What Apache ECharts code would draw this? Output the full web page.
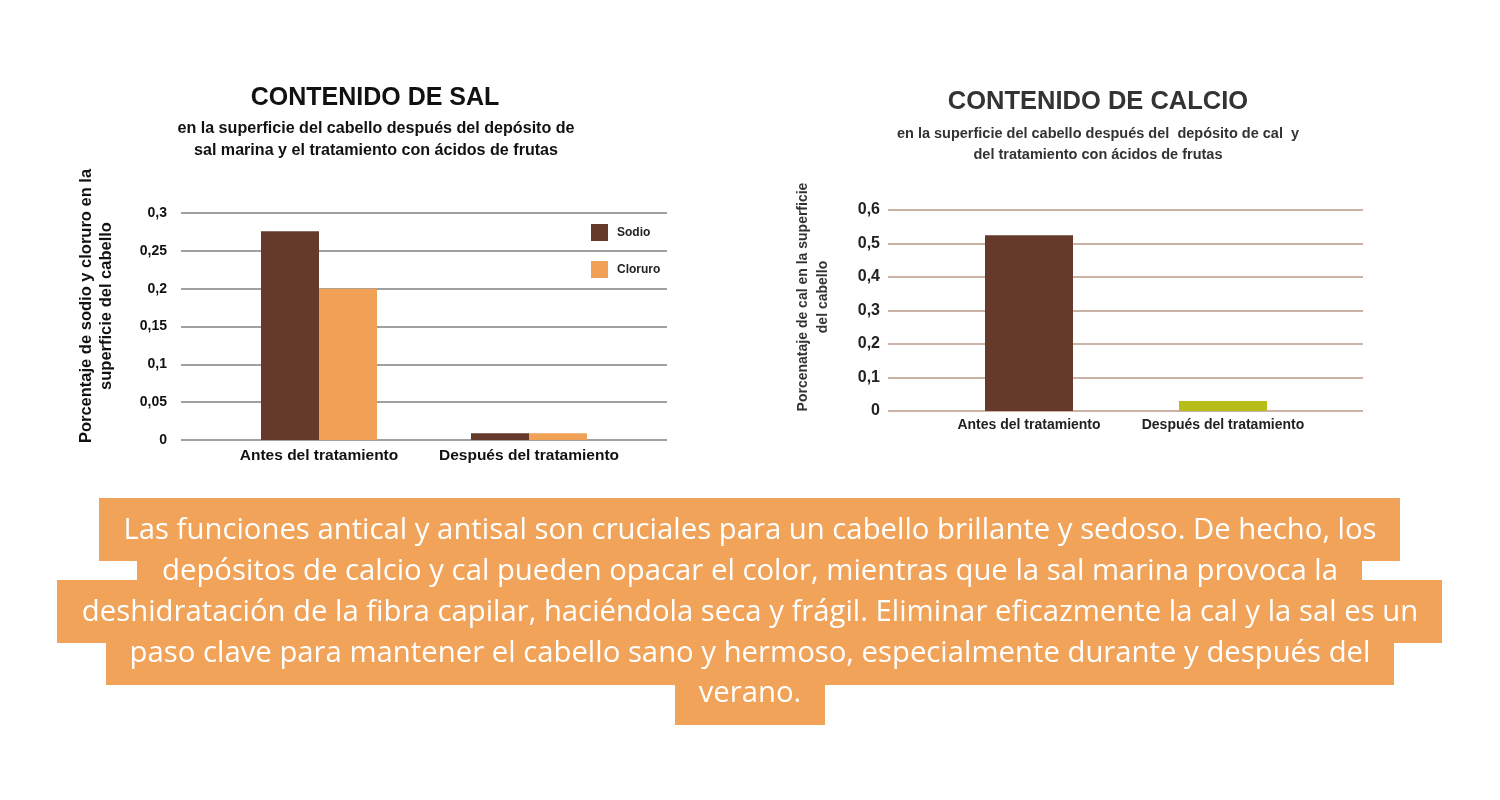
<!DOCTYPE html>
<html><head><meta charset="utf-8">
<script src="https://cdn.jsdelivr.net/npm/echarts/dist/echarts.min.js"></script>
<style>html,body{margin:0;padding:0;background:#fff}#c{width:1500px;height:800px}</style>
</head><body><div id="c"></div>
<script>
// ---- data ----
const categories = ['Antes del tratamiento', 'Después del tratamiento'];
const sodio = [0.276, 0.009];
const cloruro = [0.2, 0.009];
const calcio = [0.525, 0.03];
const saltTicks = { min: 0, max: 0.3, interval: 0.05 };
const calTicks = { min: 0, max: 0.6, interval: 0.1 };
const paragraphLines = [
  'Las funciones antical y antisal son cruciales para un cabello brillante y sedoso. De hecho, los',
  'depósitos de calcio y cal pueden opacar el color, mientras que la sal marina provoca la',
  'deshidratación de la fibra capilar, haciéndola seca y frágil. Eliminar eficazmente la cal y la sal es un',
  'paso clave para mantener el cabello sano y hermoso, especialmente durante y después del',
  'verano.'
];

// ---- styles ----
const F = '"Liberation Sans", Arial, sans-serif';
const BROWN = '#653a2b', ORANGE = '#f0a156', GREEN = '#b6bd1b', BOX = '#f0a359';
const fmt = v => String(Math.round(v * 100) / 100).replace('.', ',');

const chart = echarts.init(document.getElementById('c'));

const boxes = [
  [99, 498, 1301, 63], [137, 540, 1225, 63], [57, 580, 1385, 63],
  [106, 622, 1288, 63], [675, 661, 150, 64]
];
const lineY = [531, 572, 613, 654, 694];

const graphic = [];
boxes.forEach(b => graphic.push({ type: 'rect', z: 1, shape: { x: b[0], y: b[1], width: b[2], height: b[3] }, style: { fill: BOX } }));
paragraphLines.forEach((t, i) => graphic.push({
  type: 'text', z: 5, x: 750, y: lineY[i],
  style: { text: t, align: 'center', verticalAlign: 'middle', fill: '#fff', font: '29.3px "Open Sans"' }
}));
graphic.push({
  type: 'text', x: 96, y: 306, rotation: Math.PI / 2,
  style: { text: 'Porcentaje de sodio y cloruro en la\nsuperficie del cabello', align: 'center', verticalAlign: 'middle',
    fill: '#111', font: 'bold 16.5px ' + F, lineHeight: 20 }
});
graphic.push({
  type: 'text', x: 813, y: 297, rotation: Math.PI / 2,
  style: { text: 'Porcenataje de cal en la superficie\ndel cabello', align: 'center', verticalAlign: 'middle',
    fill: '#333', font: 'bold 14px ' + F, lineHeight: 20 }
});

const hiddenX = gi => ({ type: 'category', gridIndex: gi, data: [''], show: false });

chart.setOption({
  animation: false,
  title: [
    { text: 'CONTENIDO DE SAL', left: 375, top: 84, textAlign: 'center', padding: 0,
      textStyle: { fontFamily: F, fontSize: 25, fontWeight: 'bold', color: '#111', lineHeight: 28 } },
    { text: 'en la superficie del cabello después del depósito de\nsal marina y el tratamiento con ácidos de frutas',
      left: 376, top: 118, textAlign: 'center', padding: 0,
      textStyle: { fontFamily: F, fontSize: 16.1, fontWeight: 'bold', color: '#111', lineHeight: 22 } },
    { text: 'CONTENIDO DE CALCIO', left: 1098, top: 88, textAlign: 'center', padding: 0,
      textStyle: { fontFamily: F, fontSize: 25.5, fontWeight: 'bold', color: '#333', lineHeight: 28 } },
    { text: 'en la superficie del cabello después del  depósito de cal  y\ndel tratamiento con ácidos de frutas',
      left: 1098, top: 123.5, textAlign: 'center', padding: 0,
      textStyle: { fontFamily: F, fontSize: 14.5, fontWeight: 'bold', color: '#333', lineHeight: 21 } }
  ],
  legend: {
    data: ['Sodio', 'Cloruro'], orient: 'vertical', left: 591, top: 224, padding: 0,
    itemWidth: 17, itemHeight: 17, itemGap: 20, icon: 'rect',
    textStyle: { fontFamily: F, fontWeight: 'bold', fontSize: 12, color: '#222', padding: [0, 0, 0, 4] }
  },
  grid: [
    { left: 181, width: 486, top: 213, height: 227 },
    { left: 214, width: 420, top: 213, height: 227 },
    { left: 888, width: 475, top: 210, height: 201 },
    { left: 932, width: 388, top: 210, height: 201 }
  ],
  xAxis: [
    hiddenX(0),
    { type: 'category', gridIndex: 1, data: categories, axisLine: { show: false }, axisTick: { show: false },
      axisLabel: { interval: 0, margin: 8, fontFamily: F, fontWeight: 'bold', fontSize: 15.5, color: '#111' } },
    hiddenX(2),
    { type: 'category', gridIndex: 3, data: categories, axisLine: { show: false }, axisTick: { show: false },
      axisLabel: { interval: 0, margin: 7, fontFamily: F, fontWeight: 'bold', fontSize: 14, color: '#222' } }
  ],
  yAxis: [
    { type: 'value', gridIndex: 0, min: saltTicks.min, max: saltTicks.max, interval: saltTicks.interval,
      axisLine: { show: false }, axisTick: { show: false },
      splitLine: { lineStyle: { color: '#808080', width: 1.6 } },
      axisLabel: { margin: 14, formatter: fmt, fontFamily: F, fontWeight: 'bold', fontSize: 14, color: '#111' } },
    { type: 'value', gridIndex: 1, min: saltTicks.min, max: saltTicks.max, show: false, splitLine: { show: false } },
    { type: 'value', gridIndex: 2, min: calTicks.min, max: calTicks.max, interval: calTicks.interval,
      axisLine: { show: false }, axisTick: { show: false },
      splitLine: { lineStyle: { color: '#b9998a', width: 1.6 } },
      axisLabel: { margin: 8, formatter: fmt, fontFamily: F, fontWeight: 'bold', fontSize: 16, color: '#222' } },
    { type: 'value', gridIndex: 3, min: calTicks.min, max: calTicks.max, show: false, splitLine: { show: false } }
  ],
  series: [
    { name: 'Sodio', type: 'bar', xAxisIndex: 1, yAxisIndex: 1, data: sodio, barWidth: 58, barGap: '0%',
      itemStyle: { color: BROWN } },
    { name: 'Cloruro', type: 'bar', xAxisIndex: 1, yAxisIndex: 1, data: cloruro, barWidth: 58, barGap: '0%',
      itemStyle: { color: ORANGE } },
    { name: 'Calcio', type: 'bar', xAxisIndex: 3, yAxisIndex: 3, barWidth: 88,
      data: calcio.map((v, i) => ({ value: v, itemStyle: { color: i === 0 ? BROWN : GREEN } })) }
  ],
  graphic: graphic
});
</script></body></html>
